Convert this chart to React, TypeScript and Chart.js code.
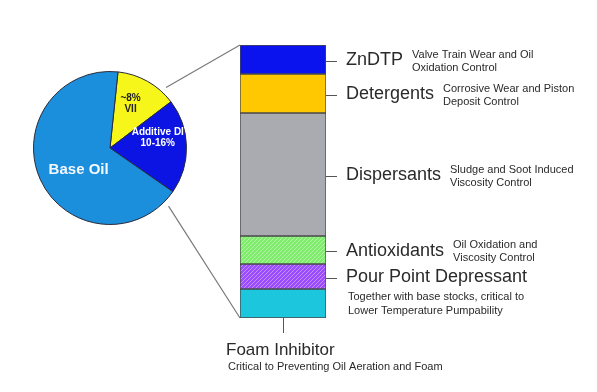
import React, { useEffect, useRef } from "react";
import { Chart, registerables } from "chart.js";

Chart.register(...registerables);

// ---- Pie data ----
const pieLabels = ["VII", "Additive DI", "Base Oil"];
const pieValues = [13, 20, 67];
const pieText = [["~8%", "VII"], ["Additive DI", "10-16%"], ["Base Oil"]];

// ---- Additive DI breakdown (top to bottom) ----
const components = [
  "ZnDTP",
  "Detergents",
  "Dispersants",
  "Antioxidants",
  "Pour Point Depressant",
  "Foam Inhibitor",
];
const shares = [29, 39, 123, 28, 25, 29];
const descriptions = [
  ["Valve Train Wear and Oil", "Oxidation Control"],
  ["Corrosive Wear and Piston", "Deposit Control"],
  ["Sludge and Soot Induced", "Viscosity Control"],
  ["Oil Oxidation and", "Viscosity Control"],
  ["Together with base stocks, critical to", "Lower Temperature Pumpability"],
  ["Critical to Preventing Oil Aeration and Foam"],
];

const FONT = '"Liberation Sans", Arial, sans-serif';
const W = 597;
const H = 392;

function hatch(base: string, line: string): CanvasPattern | string {
  const c = document.createElement("canvas");
  c.width = 4;
  c.height = 4;
  const g = c.getContext("2d");
  if (!g) return base;
  g.fillStyle = base;
  g.fillRect(0, 0, 4, 4);
  g.strokeStyle = line;
  g.lineWidth = 1;
  g.beginPath();
  g.moveTo(0, 4);
  g.lineTo(4, 0);
  g.moveTo(-1, 1);
  g.lineTo(1, -1);
  g.moveTo(3, 5);
  g.lineTo(5, 3);
  g.stroke();
  const p = g.createPattern(c, "repeat");
  return p || base;
}

export default function App() {
  const pieRef = useRef<HTMLCanvasElement | null>(null);
  const barRef = useRef<HTMLCanvasElement | null>(null);

  useEffect(() => {
    if (!pieRef.current || !barRef.current) return;

    const pieLabelPlugin = {
      id: "pieText",
      afterDatasetsDraw(chart: any) {
        const ctx = chart.ctx;
        const meta = chart.getDatasetMeta(0);
        const factors = [0.64, 0.64, 0.5];
        const shifts = [-0.08, -0.2, -0.18];
        const sizes = [10, 10, 15];
        const colors = ["#222", "#fff", "#f4f8ff"];
        meta.data.forEach((arc: any, i: number) => {
          const mid = (arc.startAngle + arc.endAngle) / 2 + shifts[i];
          const r = arc.outerRadius * factors[i];
          const cx = arc.x + Math.cos(mid) * r;
          const cy = arc.y + Math.sin(mid) * r;
          ctx.save();
          ctx.fillStyle = colors[i];
          ctx.font = `bold ${sizes[i]}px ${FONT}`;
          ctx.textAlign = "center";
          ctx.textBaseline = "middle";
          const lines = pieText[i];
          const lh = sizes[i] + 1;
          lines.forEach((t, k) => {
            ctx.fillText(t, cx, cy + (k - (lines.length - 1) / 2) * lh);
          });
          ctx.restore();
        });
      },
    };

    const pie = new Chart(pieRef.current, {
      type: "pie",
      data: {
        labels: pieLabels,
        datasets: [
          {
            data: pieValues,
            backgroundColor: ["#f6f61a", "#0c14e4", "#1c8fdc"],
            borderColor: "#2a2a3a",
            borderWidth: 1,
          },
        ],
      },
      options: {
        responsive: false,
        animation: false,
        events: [],
        rotation: 6,
        layout: { padding: { left: 33, right: W - 187, top: 71, bottom: H - 225 } },
        plugins: { legend: { display: false }, tooltip: { enabled: false } },
      },
      plugins: [pieLabelPlugin],
    });

    const fills: any[] = [
      "#0a12ee",
      "#ffc800",
      "#a9abb0",
      hatch("#7fec6e", "#aef7a0"),
      hatch("#9b4cff", "#c590ff"),
      "#1cc6dc",
    ];

    const barLabelPlugin = {
      id: "barText",
      afterDraw(chart: any) {
        const ctx = chart.ctx;
        const els = components.map((_, i) => chart.getDatasetMeta(i).data[0]);
        const first = els[0];
        const last = els[els.length - 1];
        const left = first.x - first.width / 2;
        const right = first.x + first.width / 2;
        const topY = Math.min(first.y, first.base);
        const bottomY = Math.max(last.y, last.base);

        ctx.save();
        // connectors from pie
        const arc: any = pie.getDatasetMeta(0).data[1];
        if (arc) {
          const rr = arc.outerRadius + 6;
          const off = (10 * Math.PI) / 180;
          const a1 = arc.startAngle - off;
          const a2 = arc.endAngle + off;
          ctx.strokeStyle = "#7a7a7a";
          ctx.lineWidth = 1.2;
          ctx.beginPath();
          ctx.moveTo(arc.x + Math.cos(a1) * rr, arc.y + Math.sin(a1) * rr);
          ctx.lineTo(left, topY);
          ctx.moveTo(arc.x + Math.cos(a2) * rr, arc.y + Math.sin(a2) * rr);
          ctx.lineTo(left, bottomY);
          ctx.stroke();
        }

        ctx.strokeStyle = "#555";
        ctx.lineWidth = 1;
        ctx.fillStyle = "#2a2a2a";
        ctx.textBaseline = "middle";
        ctx.textAlign = "left";
        els.forEach((el: any, i: number) => {
          const t = Math.min(el.y, el.base);
          const b = Math.max(el.y, el.base);
          const cy = (t + b) / 2 + 1;
          const desc = descriptions[i];
          if (i === components.length - 1) {
            // label below bar
            ctx.beginPath();
            ctx.moveTo(el.x + 0.5, b);
            ctx.lineTo(el.x + 0.5, b + 15);
            ctx.stroke();
            ctx.font = `17px ${FONT}`;
            ctx.fillText(components[i], left - 14, b + 32);
            ctx.font = `11px ${FONT}`;
            ctx.fillText(desc[0], left - 12, b + 49);
            return;
          }
          ctx.beginPath();
          ctx.moveTo(right, Math.round(cy) + 0.5);
          ctx.lineTo(right + 11, Math.round(cy) + 0.5);
          ctx.stroke();
          ctx.font = `18px ${FONT}`;
          const lx = right + 20;
          ctx.fillText(components[i], lx, cy);
          const tw = ctx.measureText(components[i]).width;
          ctx.font = `11px ${FONT}`;
          if (i === 4) {
            desc.forEach((d, k) => ctx.fillText(d, lx + 2, cy + 19 + k * 14));
          } else {
            desc.forEach((d, k) => ctx.fillText(d, lx + tw + 9, cy - 6 + k * 13));
          }
        });
        ctx.restore();
      },
    };

    const bar = new Chart(barRef.current, {
      type: "bar",
      data: {
        labels: ["Additive DI"],
        datasets: components.map((name, i) => ({
          label: name,
          data: [shares[i]],
          backgroundColor: fills[i],
          borderColor: "#4a4a4a",
          borderWidth: 1,
          borderSkipped: false,
          barPercentage: 1,
          categoryPercentage: 1,
        })),
      },
      options: {
        responsive: false,
        animation: false,
        events: [],
        layout: { padding: { left: 240, right: W - 326, top: 45, bottom: H - 318 } },
        scales: {
          x: { stacked: true, display: false },
          y: {
            stacked: true,
            display: false,
            reverse: true,
            min: 0,
            max: shares.reduce((a, b) => a + b, 0),
          },
        },
        plugins: { legend: { display: false }, tooltip: { enabled: false } },
      },
      plugins: [barLabelPlugin],
    });

    return () => {
      bar.destroy();
      pie.destroy();
    };
  }, []);

  return (
    <div
      style={{
        position: "fixed",
        left: 0,
        top: 0,
        width: W,
        height: H,
        background: "#fff",
      }}
    >
      <canvas ref={pieRef} width={W} height={H} style={{ position: "absolute", left: 0, top: 0 }} />
      <canvas ref={barRef} width={W} height={H} style={{ position: "absolute", left: 0, top: 0 }} />
    </div>
  );
}
